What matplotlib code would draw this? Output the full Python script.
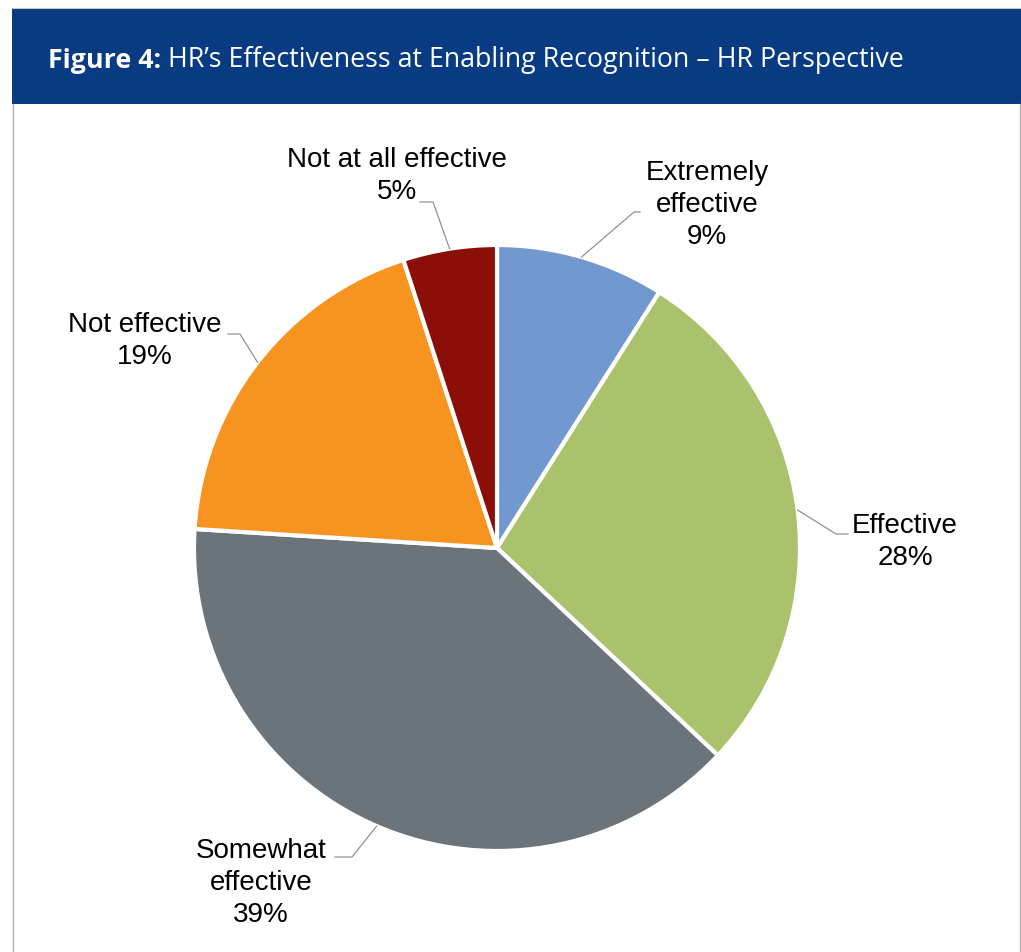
import numpy as np
import matplotlib
matplotlib.use('Agg')
import matplotlib.pyplot as plt
from matplotlib.patches import Rectangle

# survey answers, clockwise from 12 o'clock
labels = ['Extremely\neffective', 'Effective', 'Somewhat\neffective',
          'Not effective', 'Not at all effective']
shares = [9, 28, 39, 19, 5]
colors = ['#7199d0', '#abc26c', '#6a747a', '#f7941f', '#8b0f07']

W, H = 1021, 953
fig = plt.figure(figsize=(W / 100, H / 100), dpi=100, facecolor='white')
ax = fig.add_axes([0, 0, 1, 1])
ax.set_xlim(0, W)
ax.set_ylim(0, H)
ax.axis('off')

# header band and frame
ax.add_patch(Rectangle((12, H - 105), W - 12, 96, facecolor='#083b82', edgecolor='none'))
ax.plot([12, W], [H - 8.5, H - 8.5], color='#c8c8c8', lw=0.8)
ax.plot([12.5, 12.5], [0, H - 105], color='#b0b0b0', lw=1.0)
ax.plot([1019.5, 1019.5], [0, H - 105], color='#b0b0b0', lw=1.0)

t1 = ax.text(48, H - 68, 'Figure 4:', color='white', fontsize=19.3, fontweight='bold',
             family='Open Sans', va='baseline', ha='left')
ax.annotate(' HR\u2019s Effectiveness at Enabling Recognition \u2013 HR Perspective',
            xy=(1, 0), xycoords=t1, va='bottom', ha='left', color='white',
            fontsize=19.3, family='Open Sans')

# pie
cx, cy, r = 497, H - 549, 303
wedges, _ = ax.pie(shares, colors=colors, startangle=90, counterclock=False,
                   center=(cx, cy), radius=r, frame=True,
                   wedgeprops=dict(edgecolor='white', linewidth=3))
ax.set_xlim(0, W)
ax.set_ylim(0, H)
ax.axis('off')

# label text centres and leader elbows (pixels from top-left)
text_pos = [(707, 205), (905, 542), (261, 883), (145, 341), (397, 176)]
elbows = [((634, 213), (640, 213)), ((836, 535), (848, 535)),
          ((352, 858), (335, 858)), ((240, 335), (228, 335)),
          ((433, 203), (420, 203))]

start = 90.0
for lab, v, (tx, ty), (e1, e2) in zip(labels, shares, text_pos, elbows):
    mid = np.deg2rad(start - v * 3.6 / 2)
    start -= v * 3.6
    px, py = cx + r * np.cos(mid), cy + r * np.sin(mid)
    xs = [px, e1[0], e2[0]]
    ys = [py, H - e1[1], H - e2[1]]
    ax.plot(xs, ys, color='#8a939b', lw=0.9)
    ax.text(tx, H - ty, f'{lab}\n{v}%', ha='center', va='center', fontsize=20,
            family='Liberation Sans', linespacing=1.3, color='black')

fig.savefig('out.png', dpi=100, facecolor='white')
